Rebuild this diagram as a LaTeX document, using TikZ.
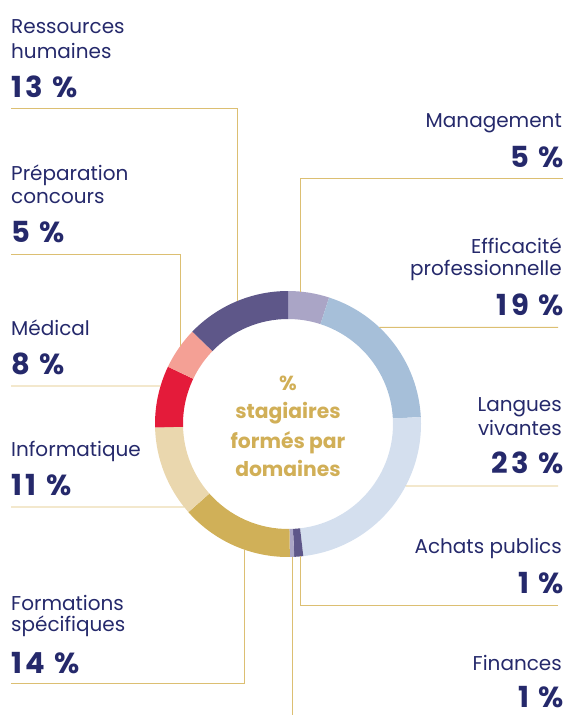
\documentclass[tikz,border=0pt]{standalone}
\usepackage{fontspec}
\setmainfont{Poppins}
\newfontfamily\pctfont{Poppins}[LetterSpace=12]
\usetikzlibrary{calc}
\definecolor{navy}{HTML}{25296B}
\definecolor{goldline}{HTML}{DCBF72}
\definecolor{goldtext}{HTML}{D1AF57}
\definecolor{cmanag}{HTML}{AAA5C6}
\definecolor{cefff}{HTML}{A6BFD9}
\definecolor{clang}{HTML}{D4DFEE}
\definecolor{cdark}{HTML}{5E5789}
\definecolor{cgold}{HTML}{D0B058}
\definecolor{cbeige}{HTML}{EAD7AE}
\definecolor{cred}{HTML}{E41B3A}
\definecolor{csalmon}{HTML}{F4A095}
\begin{document}
\begin{tikzpicture}[x=1pt,y=-1pt,
  lbl/.style={inner sep=0pt, text=navy, font=\fontsize{20}{24}\selectfont},
  pct/.style={inner sep=0pt, text=navy, font=\pctfont\fontsize{29}{30}\selectfont\bfseries, text depth=0pt},
  ctr/.style={inner sep=0pt, text=goldtext, font=\fontsize{20.3}{29}\selectfont\bfseries, anchor=base},
  lead/.style={draw=goldline, line width=0.9pt}]
\useasboundingbox (0,0) rectangle (568,715);
\coordinate (c) at (288,424);
\newcommand\ringseg[3]{\fill[#3] ($(c)+(#1:133pt)$) arc[start angle=#1,end angle=#2,radius=133pt] -- ($(c)+(#2:105pt)$) arc[start angle=#2,end angle=#1,radius=105pt] -- cycle;}
\ringseg{90}{72}{cmanag}
\ringseg{72}{3}{cefff}
\ringseg{3}{-83.4}{clang}
\ringseg{-83.4}{-87.3}{cdark}
\ringseg{-87.3}{-89.2}{cmanag}
\ringseg{-89.2}{-138.5}{cgold}
\ringseg{-138.5}{-178.5}{cbeige}
\ringseg{-178.5}{-205.5}{cred}
\ringseg{-205.5}{-224}{csalmon}
\ringseg{-224}{-270}{cdark}
% centre text
\node[ctr] (t1) at (288,390) {\%};
\node[ctr] (t2) at (288,418.3) {stagiaires};
\node[ctr] (t3) at (288,448.3) {formés par};
\node[ctr] (t4) at (288,476.7) {domaines};
% left labels
\node[lbl,anchor=base west] (rh1) at (11,33.3) {Ressources};
\node[lbl,anchor=base west] (rh2) at (11,58.3) {humaines};
\node[pct,anchor=base west] (rhp) at (11,97.3) {13 \%};
\node[lbl,anchor=base west] (pr1) at (11,180) {Préparation};
\node[lbl,anchor=base west] (pr2) at (11,203.3) {concours};
\node[pct,anchor=base west] (prp) at (11,242.3) {5 \%};
\node[lbl,anchor=base west] (me1) at (11,335) {Médical};
\node[pct,anchor=base west] (mep) at (11,374) {8 \%};
\node[lbl,anchor=base west] (in1) at (11,456.7) {Informatique};
\node[pct,anchor=base west] (inp) at (11,495) {11 \%};
\node[lbl,anchor=base west] (fo1) at (11,610) {Formations};
\node[lbl,anchor=base west] (fo2) at (11,631.7) {spécifiques};
\node[pct,anchor=base west] (fop) at (11,673.3) {14 \%};
% right labels
\node[lbl,anchor=base east] (ma1) at (562,127.3) {Management};
\node[pct,anchor=base east] (map) at (564,167.7) {5 \%};
\node[lbl,anchor=base east] (ef1) at (562,253.3) {Efficacité};
\node[lbl,anchor=base east] (ef2) at (562,275) {professionnelle};
\node[pct,anchor=base east] (efp) at (564,315.7) {19 \%};
\node[lbl,anchor=base east] (la1) at (562,411.7) {Langues};
\node[lbl,anchor=base east] (la2) at (562,435) {vivantes};
\node[pct,anchor=base east] (lap) at (564,473.3) {23 \%};
\node[lbl,anchor=base east] (ac1) at (562,553.3) {Achats publics};
\node[pct,anchor=base east] (acp) at (564,593.3) {1 \%};
\node[lbl,anchor=base east] (fi1) at (562,670) {Finances};
\node[pct,anchor=base east] (fip) at (564,707) {1 \%};
% leader end points on the ring
\coordinate (kRH) at ($(c)+(112.5:133pt)$);
\coordinate (kPR) at ($(c)+(144.3:133pt)$);
\coordinate (kME) at ($(c)+(163.4:133pt)$);
\coordinate (kIN) at ($(c)+(-141.4:133pt)$);
\coordinate (kFO) at ($(c)+(-108.9:133pt)$);
\coordinate (kMA) at ($(c)+(84.5:133pt)$);
\coordinate (kEF) at ($(c)+(46.6:133pt)$);
\coordinate (kLA) at ($(c)+(-27.8:133pt)$);
\coordinate (kAC) at ($(c)+(-84.8:133pt)$);
\coordinate (kFI) at ($(c)+(-88.1:133pt)$);
% free ends
\coordinate (eRH) at (11,108);
\coordinate (ePR) at (11,254);
\coordinate (eME) at (11,386);
\coordinate (eIN) at (11,507);
\coordinate (eFO) at (11,683.3);
\coordinate (eMA) at (562.7,178);
\coordinate (eEF) at (558,327.3);
\coordinate (eLA) at (558,486);
\coordinate (eAC) at (558,605);
\coordinate (eFI) at (292.7,715);
\draw[lead] (eRH) -| (kRH);
\draw[lead] (ePR) -| (kPR);
\draw[lead] (eME) -- (kME);
\draw[lead] (eIN) -- (kIN);
\draw[lead] (eFO) -| (kFO);
\draw[lead] (eMA) -| (kMA);
\draw[lead] (eEF) -- (kEF);
\draw[lead] (eLA) -- (kLA);
\draw[lead] (eAC) -| (kAC);
\draw[lead] (kFI) -- (kFI |- eFI);
\end{tikzpicture}
\end{document}
